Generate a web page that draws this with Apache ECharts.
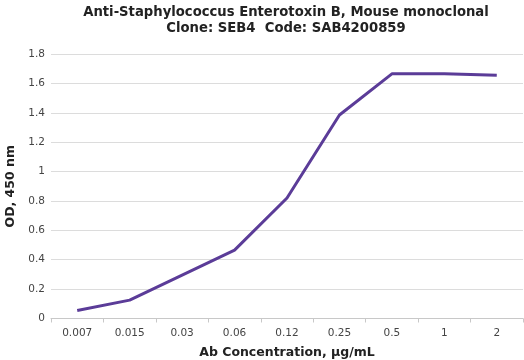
<!DOCTYPE html>
<html><head><meta charset="utf-8">
<script src="https://cdn.jsdelivr.net/npm/echarts@6/dist/echarts.min.js"></script>
<style>html,body{margin:0;padding:0;background:#fff}#c{width:524px;height:360px}</style>
</head><body><div id="c"></div>
<script>
const categories = ['0.007','0.015','0.03','0.06','0.12','0.25','0.5','1','2'];
const odValues = [0.055, 0.125, 0.295, 0.465, 0.82, 1.385, 1.665, 1.665, 1.655];
const yTicks = { min: 0, max: 1.8, interval: 0.2 };

const chart = echarts.init(document.getElementById('c'), null, {renderer: 'canvas'});
chart.setOption({
  animation: false,
  backgroundColor: '#fff',
  title: {
    text: 'Anti-Staphylococcus Enterotoxin B, Mouse monoclonal\nClone: SEB4  Code: SAB4200859',
    left: 286, top: 5, padding: 0, textAlign: 'center',
    textStyle: { fontFamily: 'DejaVu Sans', fontWeight: 'bold', fontSize: 13.2, lineHeight: 16, color: '#222' }
  },
  grid: { left: 51, right: 1, top: 54, bottom: 41.5, outerBoundsMode: 'none', containLabel: false },
  xAxis: {
    type: 'category', data: categories, boundaryGap: true,
    name: 'Ab Concentration, µg/mL', nameLocation: 'middle', nameGap: 28,
    nameTextStyle: { fontFamily: 'DejaVu Sans', fontWeight: 'bold', fontSize: 12.5, color: '#222' },
    axisLine: { lineStyle: { color: '#c8c8c8' } },
    axisTick: { show: true, alignWithLabel: false, length: 4, lineStyle: { color: '#c8c8c8' } },
    axisLabel: { fontFamily: 'DejaVu Sans', fontSize: 10.5, color: '#444', margin: 9 }
  },
  yAxis: {
    type: 'value', min: yTicks.min, max: yTicks.max, interval: yTicks.interval,
    name: 'OD, 450 nm', nameLocation: 'middle', nameGap: 28,
    nameTextStyle: { fontFamily: 'DejaVu Sans', fontWeight: 'bold', fontSize: 12.5, color: '#222' },
    axisLine: { show: false }, axisTick: { show: false },
    axisLabel: { fontFamily: 'DejaVu Sans', fontSize: 10.5, color: '#444', margin: 6 },
    splitLine: { lineStyle: { color: '#dcdcdc' } }
  },
  series: [{
    type: 'line', data: odValues, symbol: 'none',
    lineStyle: { color: '#5b3c98', width: 3 }
  }]
});
</script></body></html>
